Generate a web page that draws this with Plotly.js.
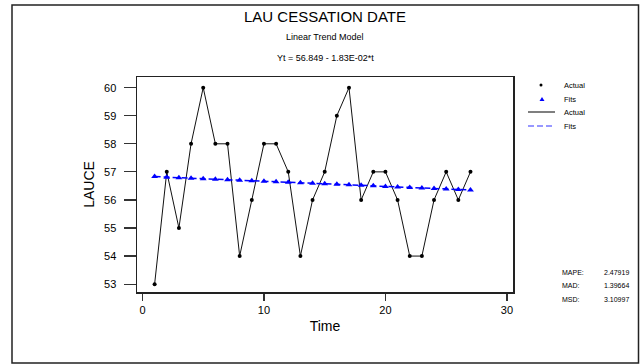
<!DOCTYPE html>
<html>
<head>
<meta charset="utf-8">
<script src="https://cdn.plot.ly/plotly-3.0.1.min.js"></script>
<style>html,body{margin:0;padding:0;background:#fff;}#chart{width:641px;height:364px;}</style>
</head>
<body>
<div id="chart"></div>
<script>
// ---- data ----
var timeIndex = [1,2,3,4,5,6,7,8,9,10,11,12,13,14,15,16,17,18,19,20,21,22,23,24,25,26,27];
var actualValues = [53,57,55,58,60,58,58,54,56,58,58,57,54,56,57,59,60,56,57,57,56,54,54,56,57,56,57];
var fitValues = [56.8307,56.8124,56.7941,56.7758,56.7575,56.7392,56.7209,56.7026,56.6843,56.6660,
                 56.6477,56.6294,56.6111,56.5928,56.5745,56.5562,56.5379,56.5196,56.5013,56.4830,
                 56.4647,56.4464,56.4281,56.4098,56.3915,56.3732,56.3549];
var xTickVals = [0,10,20,30];
var yTickVals = [53,54,55,56,57,58,59,60];
var statLabels = ['MAPE:','MAD:','MSD:'];
var statValues = ['2.47919','1.39664','3.10997'];
var legendLabels = ['Actual','Fits','Actual','Fits'];

// ---- layout helpers (pixel -> paper) ----
var W = 641, H = 364, ML = 137, MR = 128, MT = 77, MB = 72;
var PW = W - ML - MR, PH = H - MT - MB;
function px(x){ return (x - ML) / PW; }
function py(y){ return (H - MB - y) / PH; }

var FONT = '"Liberation Sans Narrow", "Liberation Sans", Arial, sans-serif';

var traces = [
  {x: timeIndex, y: actualValues, mode: 'lines', line: {color: '#111', width: 1}, hoverinfo: 'skip'},
  {x: timeIndex, y: fitValues, mode: 'lines', line: {color: '#0000ff', width: 1.5, dash: '6px,3px'}, hoverinfo: 'skip'},
  {x: timeIndex, y: fitValues, mode: 'markers', marker: {symbol: 'triangle-up', size: 6, color: '#0000ff'}},
  {x: timeIndex, y: actualValues, mode: 'markers', marker: {symbol: 'circle', size: 4, color: '#000'}}
];

var annotations = [
  {text: 'Linear Trend Model', xref: 'paper', x: 0.5, yref: 'paper', y: py(37), showarrow: false,
   font: {family: FONT, size: 9, color: '#000'}, xanchor: 'center', yanchor: 'middle'},
  {text: 'Yt = 56.849 - 1.83E-02*t', xref: 'paper', x: 0.5, yref: 'paper', y: py(58), showarrow: false,
   font: {family: FONT, size: 9, color: '#000'}, xanchor: 'center', yanchor: 'middle'}
];
var legendY = [85, 99, 112, 126];
legendLabels.forEach(function(t, i){
  annotations.push({text: t, xref: 'paper', x: px(562), yref: 'paper', y: py(legendY[i]), showarrow: false,
    font: {family: FONT, size: 7.5, color: '#000'}, xanchor: 'left', yanchor: 'middle'});
});
var statY = [272, 285.5, 299];
statLabels.forEach(function(t, i){
  annotations.push({text: t, xref: 'paper', x: px(560), yref: 'paper', y: py(statY[i]), showarrow: false,
    font: {family: FONT, size: 7, color: '#000'}, xanchor: 'left', yanchor: 'middle'});
  annotations.push({text: statValues[i], xref: 'paper', x: px(631), yref: 'paper', y: py(statY[i]), showarrow: false,
    font: {family: FONT, size: 7, color: '#000'}, xanchor: 'right', yanchor: 'middle'});
});

var shapes = [
  // outer frame
  {type: 'rect', xref: 'paper', yref: 'paper', x0: px(12), x1: px(638.5), y0: py(363), y1: py(5),
   line: {color: '#222', width: 1.5}, layer: 'below'},
  // legend samples
  {type: 'circle', xref: 'paper', yref: 'paper', x0: px(539.5), x1: px(542.5), y0: py(86.5), y1: py(83.5),
   fillcolor: '#000', line: {color: '#000', width: 0}},
  {type: 'path', xref: 'paper', yref: 'paper',
   path: 'M ' + px(539.5) + ' ' + py(101) + ' L ' + px(544.5) + ' ' + py(101) + ' L ' + px(542) + ' ' + py(97) + ' Z',
   fillcolor: '#0000ff', line: {color: '#0000ff', width: 0}},
  {type: 'line', xref: 'paper', yref: 'paper', x0: px(528), x1: px(555), y0: py(112), y1: py(112),
   line: {color: '#555', width: 1.5}},
  {type: 'line', xref: 'paper', yref: 'paper', x0: px(528), x1: px(555), y0: py(126), y1: py(126),
   line: {color: '#7777ff', width: 1.5, dash: '6px,3px'}}
];

var layout = {
  width: W, height: H,
  margin: {l: ML, r: MR, t: MT, b: MB, pad: 0},
  paper_bgcolor: '#fff', plot_bgcolor: '#fff',
  showlegend: false,
  font: {family: FONT, size: 11, color: '#000'},
  title: {text: 'LAU CESSATION DATE', font: {family: FONT, size: 15, color: '#000'},
          xref: 'paper', x: 0.5, xanchor: 'center', yref: 'container', y: 1 - 17/H, yanchor: 'middle'},
  xaxis: {
    range: [-0.45, 30.5], tickvals: xTickVals, ticks: 'outside', ticklen: 7, tickwidth: 1.2, tickcolor: '#333',
    showline: true, linecolor: '#222', linewidth: 1.5, mirror: true, showgrid: false, zeroline: false,
    tickfont: {family: FONT, size: 11, color: '#000'},
    title: {text: 'Time', standoff: 6, font: {family: FONT, size: 14, color: '#000'}}
  },
  yaxis: {
    range: [52.72, 60.38], tickvals: yTickVals, ticks: 'outside', ticklen: 12, tickwidth: 1.2, tickcolor: '#333',
    ticklabelstandoff: 5,
    showline: true, linecolor: '#222', linewidth: 1.5, mirror: true, showgrid: false, zeroline: false,
    tickfont: {family: FONT, size: 11, color: '#000'},
    title: {text: 'LAUCE', standoff: 6, font: {family: FONT, size: 14, color: '#000'}}
  },
  annotations: annotations,
  shapes: shapes
};

Plotly.newPlot('chart', traces, layout, {staticPlot: true, displayModeBar: false});
</script>
</body>
</html>
